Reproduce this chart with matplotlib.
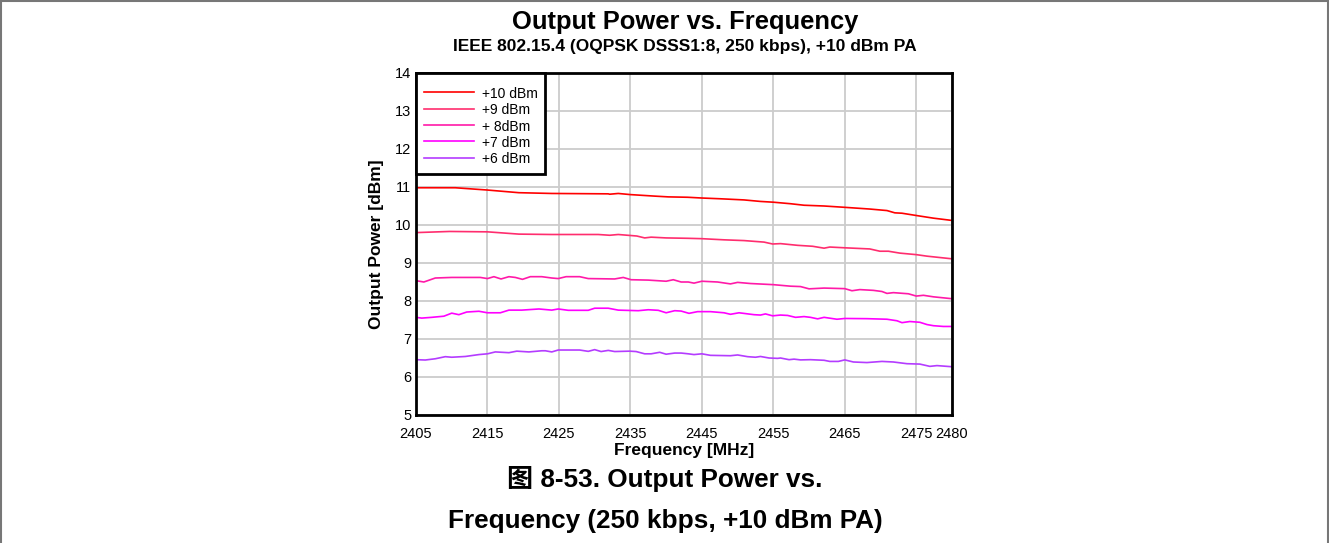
import matplotlib
matplotlib.use("Agg")
import matplotlib.pyplot as plt
from matplotlib.lines import Line2D

plt.rcParams['font.family'] = ['Liberation Sans', 'DejaVu Sans']

f10 = [2405, 2410.5, 2415, 2419.4, 2424, 2431.9, 2432.1, 2433.3, 2435, 2438.4, 2440.3, 2443,
       2445, 2447.6, 2450.9, 2453.2, 2455, 2457.4, 2459.3, 2462.1, 2465, 2468.5, 2470.9,
       2472, 2473, 2475, 2477.4, 2480]
p10 = [10.98, 10.98, 10.92, 10.85, 10.83, 10.82, 10.81, 10.83, 10.80, 10.76, 10.74, 10.73,
       10.71, 10.69, 10.66, 10.62, 10.60, 10.56, 10.52, 10.50, 10.465, 10.42, 10.38,
       10.32, 10.31, 10.25, 10.18, 10.12]

f9 = [2405, 2409.7, 2415, 2419.4, 2424, 2430.5, 2432.1, 2433.3, 2435.9, 2437, 2437.9, 2440,
      2443, 2445, 2448.1, 2450.9, 2453.7, 2454.9, 2456, 2458.4, 2460.5, 2462.1, 2462.9,
      2465, 2468.5, 2469.9, 2471.1, 2472.7, 2475, 2476.5, 2480]
p9 = [9.80, 9.83, 9.82, 9.76, 9.75, 9.75, 9.73, 9.75, 9.71, 9.66, 9.68, 9.66,
      9.65, 9.64, 9.61, 9.59, 9.55, 9.50, 9.51, 9.465, 9.44, 9.39, 9.42,
      9.40, 9.37, 9.31, 9.31, 9.26, 9.22, 9.18, 9.11]

f8 = [2405, 2406.1, 2407.7, 2410, 2414, 2415, 2415.9, 2416.9, 2418, 2418.9, 2419.9, 2421,
      2422.6, 2424, 2424.9, 2426, 2427.9, 2429.1, 2432.8, 2434, 2435.1, 2437.5, 2440,
      2441, 2442.1, 2443.1, 2443.9, 2445, 2447.2, 2449, 2450, 2451.8, 2455, 2457.4,
      2458.8, 2460, 2462.1, 2465, 2466, 2467.1, 2469, 2470.2, 2470.9, 2471.8, 2473.9,
      2475, 2476, 2477.4, 2480]
p8 = [8.535, 8.50, 8.605, 8.62, 8.62, 8.59, 8.64, 8.58, 8.64, 8.62, 8.57, 8.64,
      8.64, 8.605, 8.59, 8.64, 8.64, 8.59, 8.58, 8.62, 8.56, 8.55, 8.52,
      8.56, 8.50, 8.50, 8.47, 8.52, 8.50, 8.45, 8.49, 8.46, 8.43, 8.39,
      8.38, 8.32, 8.34, 8.325, 8.27, 8.30, 8.28, 8.25, 8.20, 8.22, 8.19,
      8.13, 8.15, 8.11, 8.06]

f7 = [2405, 2405.8, 2407.2, 2408.9, 2410, 2411, 2412.1, 2413.8, 2415, 2416.8, 2418, 2419.8,
      2422.2, 2424, 2424.9, 2426.3, 2429.1, 2430, 2431.9, 2433.3, 2436.1, 2437.5, 2438.9,
      2440, 2441.2, 2442.1, 2443.2, 2444.4, 2446.2, 2448.1, 2449, 2450.2, 2452.3, 2453.2,
      2453.9, 2454.9, 2456, 2457, 2458.1, 2459.3, 2460.2, 2461.2, 2462.1, 2463.9, 2465,
      2468.1, 2470.9, 2472.3, 2473, 2474.1, 2475.5, 2476.5, 2477.4, 2478.8, 2480]
p7 = [7.57, 7.55, 7.57, 7.60, 7.68, 7.64, 7.71, 7.73, 7.69, 7.69, 7.76, 7.76,
      7.79, 7.76, 7.79, 7.755, 7.755, 7.81, 7.81, 7.76, 7.745, 7.77, 7.755,
      7.69, 7.745, 7.735, 7.675, 7.72, 7.72, 7.69, 7.65, 7.69, 7.64, 7.63,
      7.66, 7.61, 7.63, 7.62, 7.57, 7.59, 7.57, 7.53, 7.57, 7.52, 7.54,
      7.535, 7.52, 7.48, 7.43, 7.46, 7.44, 7.38, 7.35, 7.33, 7.33]

f6 = [2405, 2406.3, 2407.7, 2409.1, 2410, 2411.9, 2413.8, 2415, 2416.1, 2418, 2419.1, 2420.8,
      2422.6, 2423.1, 2424, 2424.9, 2427.9, 2429.1, 2430, 2430.9, 2431.9, 2432.8, 2434.9,
      2435.8, 2437, 2437.9, 2439.1, 2440, 2441.2, 2442.1, 2443.1, 2443.9, 2445, 2446.2,
      2449, 2450, 2451.4, 2452.5, 2453.2, 2454.4, 2455.6, 2456, 2457.2, 2457.9, 2458.8,
      2460.2, 2462.1, 2462.9, 2464.1, 2465, 2466.2, 2468.1, 2470.2, 2471.8, 2473.7,
      2475.5, 2476.9, 2477.9, 2480]
p6 = [6.456, 6.447, 6.48, 6.535, 6.52, 6.54, 6.59, 6.61, 6.66, 6.64, 6.68, 6.66,
      6.69, 6.69, 6.66, 6.71, 6.71, 6.675, 6.72, 6.67, 6.70, 6.67, 6.68,
      6.67, 6.61, 6.61, 6.65, 6.60, 6.63, 6.63, 6.61, 6.59, 6.61, 6.57,
      6.56, 6.58, 6.535, 6.52, 6.54, 6.50, 6.49, 6.50, 6.456, 6.47, 6.45,
      6.456, 6.44, 6.41, 6.41, 6.45, 6.395, 6.38, 6.41, 6.395, 6.35,
      6.34, 6.28, 6.30, 6.27]

labels = ['+10 dBm', '+9 dBm', '+ 8dBm', '+7 dBm', '+6 dBm']
colors = ['#ff0000', '#ff2d6e', '#ff1aa8', '#ff00ff', '#b43cff']
xticks = [2405, 2415, 2425, 2435, 2445, 2455, 2465, 2475, 2480]
yticks = [5, 6, 7, 8, 9, 10, 11, 12, 13, 14]

fig = plt.figure(figsize=(13.29, 5.43), dpi=100)
ax = fig.add_axes([416/1329, 1-415/543, 536/1329, 342/543])

series = [(f10, p10), (f9, p9), (f8, p8), (f7, p7), (f6, p6)]
for (f, p), lab, c in zip(series, labels, colors):
    ax.plot(f, p, color=c, lw=1.2, label=lab)

ax.set_xlim(2405, 2480)
ax.set_ylim(5, 14)
ax.set_xticks(xticks)
ax.set_yticks(yticks)
ax.tick_params(length=0, labelsize=10.5)
ax.tick_params(axis='x', pad=8.5)
ax.tick_params(axis='y', pad=3.5)
ax.grid(True, color='#cccccc', lw=1.3)
ax.set_axisbelow(True)
for s in ax.spines.values():
    s.set_linewidth(2)
    s.set_color('black')

ax.set_xlabel('Frequency [MHz]', fontsize=12.5, fontweight='bold', labelpad=1.5)
ax.set_ylabel('Output Power [dBm]', fontsize=12.5, fontweight='bold', labelpad=7.5)

leg = ax.legend(loc='upper left', bbox_to_anchor=(0, 1), borderaxespad=0, fontsize=10,
                fancybox=False, framealpha=1, edgecolor='black', handlelength=3.6,
                handleheight=1.1, handletextpad=0.6, labelspacing=0.14, borderpad=0.55,
                title=' ', title_fontsize=3)
leg.get_frame().set_linewidth(2)

cx = 685/1329
fig.text(cx, 1-21.5/543, 'Output Power vs. Frequency', ha='center', va='center',
         fontsize=18.4, fontweight='bold')
fig.text(cx, 1-46.5/543, 'IEEE 802.15.4 (OQPSK DSSS1:8, 250 kbps), +10 dBm PA',
         ha='center', va='center', fontsize=12.5, fontweight='bold')

cap_font = ['Liberation Sans', 'Noto Sans CJK SC']
fig.text(665/1329, 1-479/543, '图 8-53. Output Power vs.', ha='center', va='center',
         fontsize=18.8, fontweight='bold', family=cap_font)
fig.text(665/1329, 1-521/543, 'Frequency (250 kbps, +10 dBm PA)', ha='center', va='center',
         fontsize=18.8, fontweight='bold', family=cap_font)

# page border
for xs, ys in [([0, 1], [0.999, 0.999]), ([0.0005, 0.0005], [0, 1]), ([0.9995, 0.9995], [0, 1])]:
    fig.add_artist(Line2D(xs, ys, transform=fig.transFigure, color='#777777', lw=1.5))

fig.savefig('out.png', dpi=100)
